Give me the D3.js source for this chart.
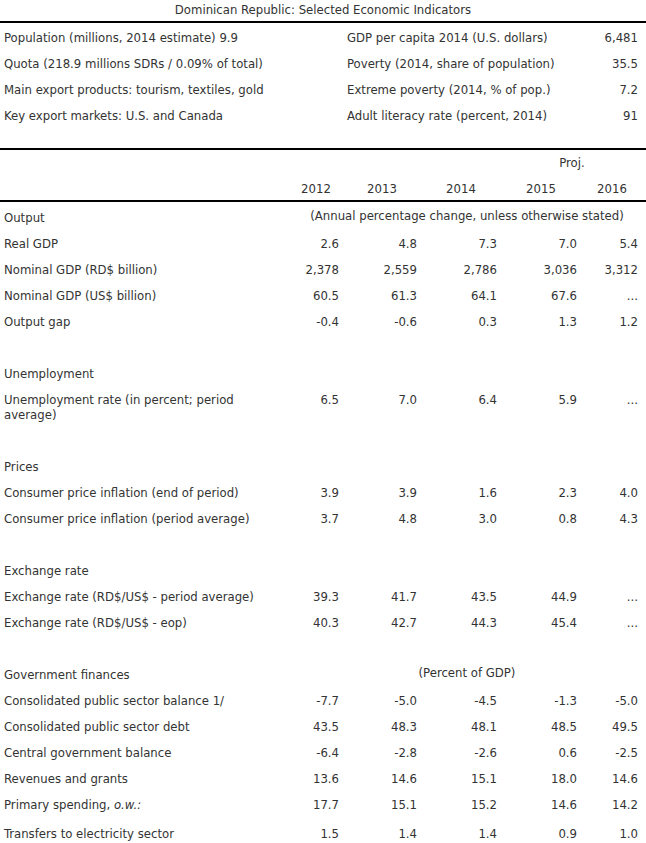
<!DOCTYPE html>
<html>
<head>
<meta charset="utf-8">
<script src="https://cdn.jsdelivr.net/npm/d3@7"></script>
<style>
  html, body { margin: 0; padding: 0; background: #ffffff; }
  svg text { font-family: "DejaVu Sans Condensed", "DejaVu Sans", sans-serif; font-stretch: condensed; font-size: 13px; fill: #333; }
</style>
</head>
<body>
<svg id="chart" width="646" height="843"></svg>
<script>
// ---------- DATA ----------
const title = "Dominican Republic: Selected Economic Indicators";

const infoLeft = [
  "Population (millions, 2014 estimate) 9.9",
  "Quota (218.9 millions SDRs / 0.09% of total)",
  "Main export products: tourism, textiles, gold",
  "Key export markets: U.S. and Canada"
];
const infoRightLabels = [
  "GDP per capita 2014 (U.S. dollars)",
  "Poverty (2014, share of population)",
  "Extreme poverty (2014, % of pop.)",
  "Adult literacy rate (percent, 2014)"
];
const infoRightValues = ["6,481", "35.5", "7.2", "91"];

const years = ["2012", "2013", "2014", "2015", "2016"];
const projLabel = "Proj.";

const sectionOutput = "Output";
const noteOutput = "(Annual percentage change, unless otherwise stated)";
const outputLabels = ["Real GDP", "Nominal GDP (RD$ billion)", "Nominal GDP (US$ billion)", "Output gap"];
const outputValues = [
  ["2.6", "4.8", "7.3", "7.0", "5.4"],
  ["2,378", "2,559", "2,786", "3,036", "3,312"],
  ["60.5", "61.3", "64.1", "67.6", "..."],
  ["-0.4", "-0.6", "0.3", "1.3", "1.2"]
];

const sectionUnemp = "Unemployment";
const unempLabels = ["Unemployment rate (in percent; period average)"];
const unempValues = [["6.5", "7.0", "6.4", "5.9", "..."]];

const sectionPrices = "Prices";
const pricesLabels = ["Consumer price inflation (end of period)", "Consumer price inflation (period average)"];
const pricesValues = [
  ["3.9", "3.9", "1.6", "2.3", "4.0"],
  ["3.7", "4.8", "3.0", "0.8", "4.3"]
];

const sectionFx = "Exchange rate";
const fxLabels = ["Exchange rate (RD$/US$ - period average)", "Exchange rate (RD$/US$ - eop)"];
const fxValues = [
  ["39.3", "41.7", "43.5", "44.9", "..."],
  ["40.3", "42.7", "44.3", "45.4", "..."]
];

const sectionGov = "Government finances";
const noteGov = "(Percent of GDP)";
const govLabels = [
  "Consolidated public sector balance 1/",
  "Consolidated public sector debt",
  "Central government balance",
  "Revenues and grants",
  "Primary spending, |o.w.:",
  "Transfers to electricity sector"
];
const govValues = [
  ["-7.7", "-5.0", "-4.5", "-1.3", "-5.0"],
  ["43.5", "48.3", "48.1", "48.5", "49.5"],
  ["-6.4", "-2.8", "-2.6", "0.6", "-2.5"],
  ["13.6", "14.6", "15.1", "18.0", "14.6"],
  ["17.7", "15.1", "15.2", "14.6", "14.2"],
  ["1.5", "1.4", "1.4", "0.9", "1.0"]
];

// ---------- LAYOUT ----------
const W = 646, H = 843;
const svg = d3.select("#chart");
svg.append("rect").attr("width", W).attr("height", H).attr("fill", "#ffffff");

const colRight = d3.scaleOrdinal().domain(years).range([339, 417, 497, 577, 638]);
const colCenter = d3.scaleOrdinal().domain(years).range([316, 382, 461, 541, 612]);
const labelX = 4;
const labelWrap = 272;
const lineGap = 15;

// title
svg.append("text").attr("x", W / 2).attr("y", 9).attr("dy", "0.35em")
  .attr("text-anchor", "middle").text(title);

function hline(y) {
  svg.append("line").attr("x1", 0).attr("x2", W).attr("y1", y).attr("y2", y)
    .attr("stroke", "#000").attr("stroke-width", 2);
}
hline(22);

// info block
const infoY = d3.scaleLinear().domain([0, 1]).range([37, 63]);
svg.append("g").selectAll("text").data(infoLeft).join("text")
  .attr("x", labelX).attr("y", (d, i) => infoY(i)).attr("dy", "0.35em").text(d => d);
svg.append("g").selectAll("text").data(infoRightLabels).join("text")
  .attr("x", 347).attr("y", (d, i) => infoY(i)).attr("dy", "0.35em").text(d => d);
svg.append("g").selectAll("text").data(infoRightValues).join("text")
  .attr("x", 638).attr("y", (d, i) => infoY(i)).attr("dy", "0.35em")
  .attr("text-anchor", "end").text(d => d);

hline(149);
// header
svg.append("text").attr("x", colCenter("2015") + 31).attr("y", 162).attr("dy", "0.35em")
  .attr("text-anchor", "middle").text(projLabel);
svg.append("g").selectAll("text").data(years).join("text")
  .attr("x", d => colCenter(d)).attr("y", 188).attr("dy", "0.35em")
  .attr("text-anchor", "middle").text(d => d);
hline(201);

// body rows
const sections = [
  { head: sectionOutput, note: noteOutput, labels: outputLabels, values: outputValues },
  { head: sectionUnemp, labels: unempLabels, values: unempValues },
  { head: sectionPrices, labels: pricesLabels, values: pricesValues },
  { head: sectionFx, labels: fxLabels, values: fxValues },
  { head: sectionGov, note: noteGov, labels: govLabels, values: govValues }
];

const rowStep = 26;
let y = 217;
const body = svg.append("g");

function drawLabel(g, label, yy) {
  const t = g.append("text").attr("x", labelX).attr("y", yy).attr("dy", "0.35em");
  if (label.includes("|")) {
    const [a, b] = label.split("|");
    t.append("tspan").text(a);
    t.append("tspan").attr("font-style", "italic").text(b);
    return 1;
  }
  const words = label.split(" ");
  let line = [];
  let tspan = t.append("tspan").attr("x", labelX);
  let lines = 1;
  for (const w of words) {
    line.push(w);
    tspan.text(line.join(" "));
    if (tspan.node().getComputedTextLength() > labelWrap && line.length > 1) {
      line.pop();
      tspan.text(line.join(" "));
      line = [w];
      tspan = t.append("tspan").attr("x", labelX).attr("dy", lineGap).text(w);
      lines++;
    }
  }
  return lines;
}

sections.forEach((s, si) => {
  const g = body.append("g");
  g.append("text").attr("x", labelX).attr("y", y).attr("dy", "0.35em").text(s.head);
  if (s.note) {
    g.append("text").attr("x", 467).attr("y", y - 2).attr("dy", "0.35em")
      .attr("text-anchor", "middle").text(s.note);
  }
  y += rowStep;
  s.labels.forEach((lab, ri) => {
    const lines = drawLabel(g, lab, y);
    g.append("g").selectAll("text").data(s.values[ri].map((v, k) => ({ v, yr: years[k] })))
      .join("text")
      .attr("x", d => colRight(d.yr)).attr("y", y).attr("dy", "0.35em")
      .attr("text-anchor", "end").text(d => d.v);
    let h = rowStep + (lines - 1) * lineGap;
    if (lab.includes("|")) h += 3;
    y += h;
  });
  y += rowStep;
});
</script>
</body>
</html>
